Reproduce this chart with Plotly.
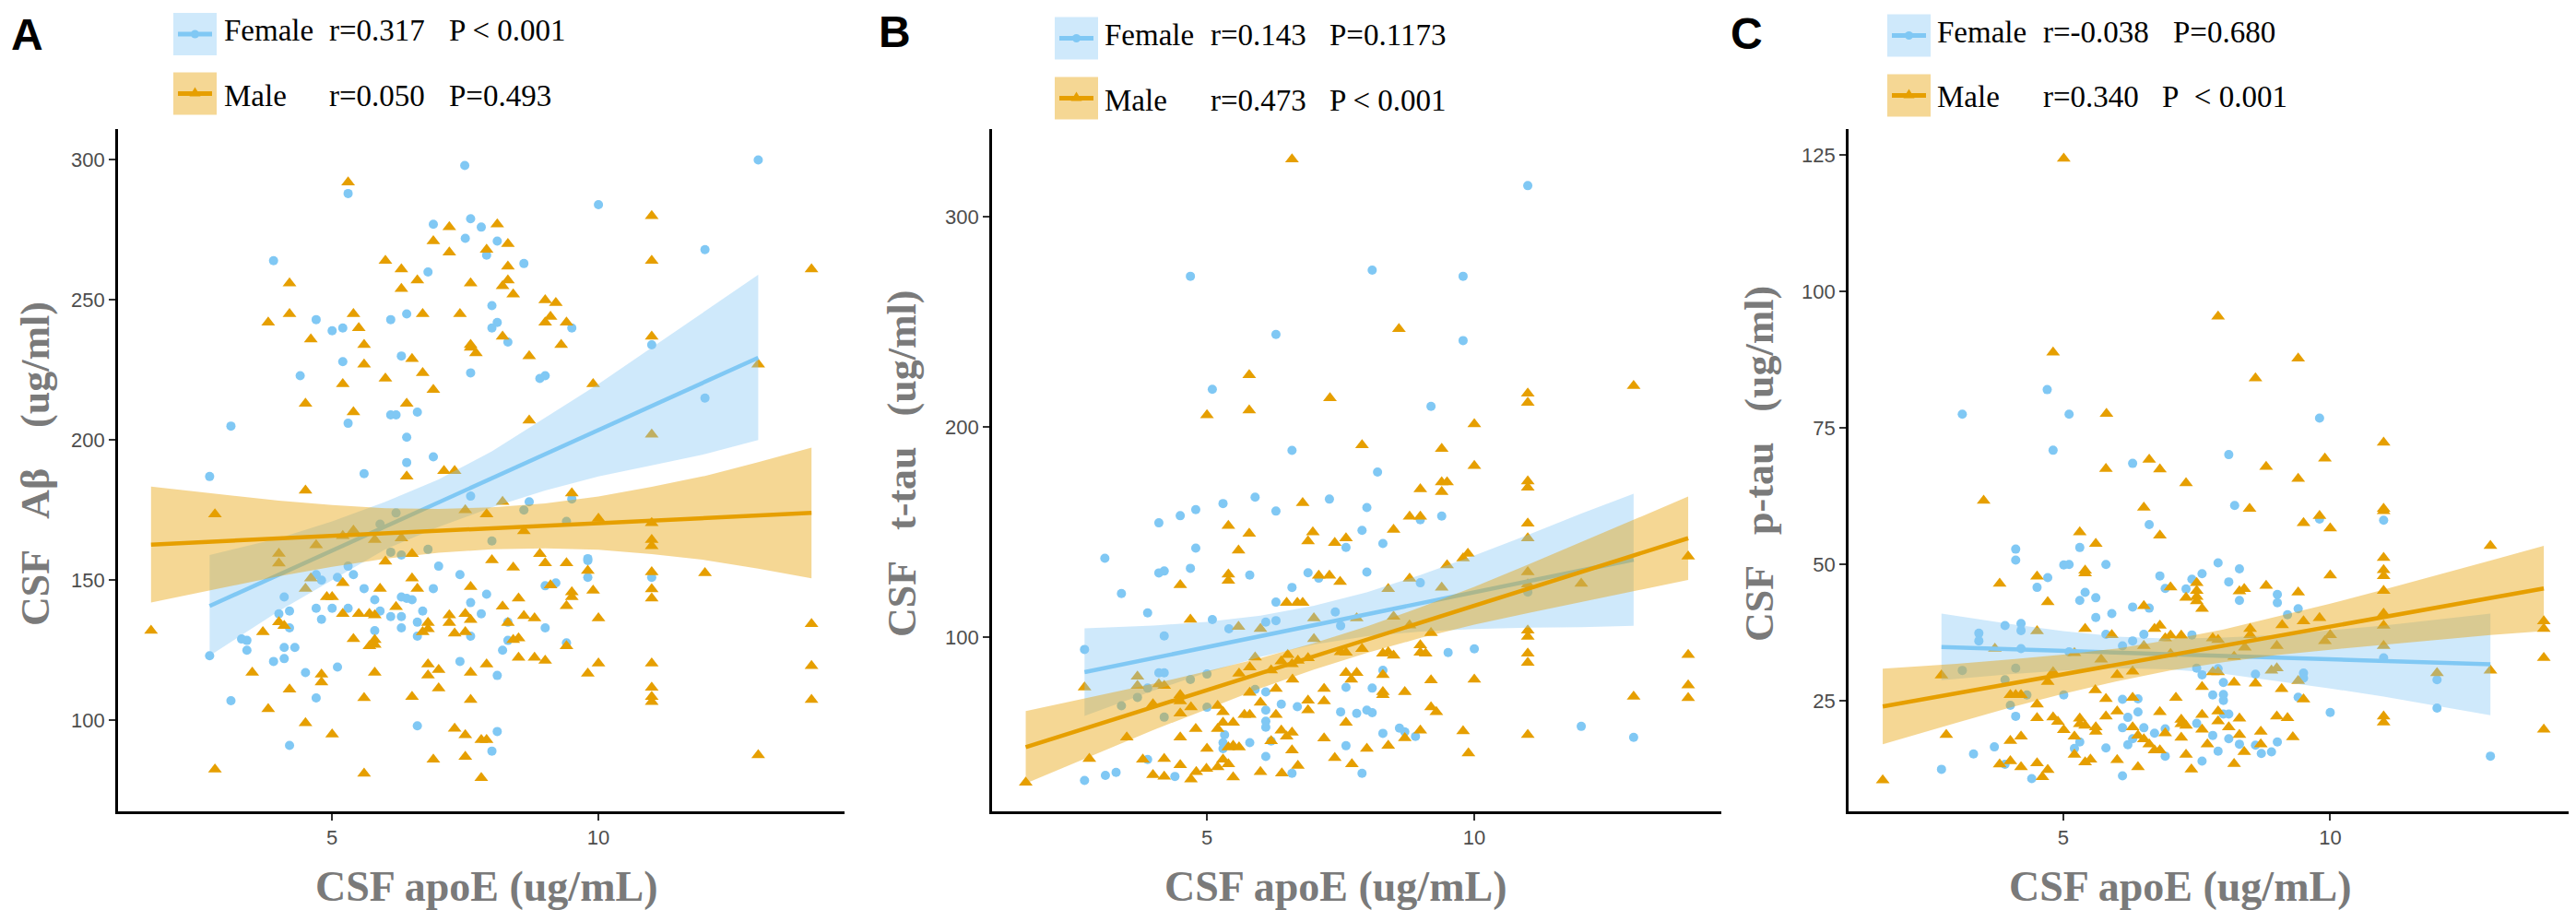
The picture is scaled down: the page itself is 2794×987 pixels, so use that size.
import plotly.graph_objects as go

W, H = 2794, 987

# ---- data: (apoE, marker) pairs ----
a_female = [(7.49, 298), (13.0, 300), (5.3, 288), (10.0, 284), (6.9, 277), (7.6, 279), (7.8, 276), (7.5, 272),
            (8.1, 271), (7.9, 266), (12.0, 268), (3.9, 264), (8.6, 263), (6.8, 260), (8.0, 248), (8.1, 242),
            (8.0, 240), (4.7, 243), (6.1, 243), (6.4, 245), (5.0, 239), (5.2, 240), (8.3, 235), (9.5, 240),
            (11.0, 234), (5.2, 228), (6.3, 230), (4.4, 223), (7.6, 224), (8.9, 222), (9.0, 223), (12.0, 215),
            (6.1, 209), (6.2, 209), (6.6, 210), (5.3, 206), (3.1, 205), (6.4, 201), (6.4, 192), (6.9, 194),
            (5.6, 188), (2.7, 187), (7.6, 180), (8.7, 178), (8.6, 175), (9.5, 179), (6.2, 174), (8.0, 164),
            (9.4, 171), (5.9, 170), (6.8, 161), (6.3, 159), (6.1, 160), (9.8, 157.7), (7.0, 155), (7.4, 152),
            (9.8, 157), (9.8, 151), (11.0, 151), (9.2, 149), (9.0, 148), (4.7, 152), (4.8, 150), (5.1, 151),
            (5.4, 152), (5.3, 155), (5.6, 147), (6.9, 147), (6.3, 144), (6.4, 143.5), (6.5, 143), (5.8, 143),
            (4.1, 144), (4.0, 138), (4.2, 139), (4.7, 140), (5.0, 140), (5.3, 140), (4.8, 136), (5.9, 139),
            (6.1, 137), (6.3, 137), (6.7, 139), (6.6, 135), (5.8, 132), (6.3, 133), (7.8, 138), (7.6, 142),
            (7.9, 145), (8.3, 135), (9.0, 133), (4.2, 133), (3.4, 128.5), (3.3, 129), (3.4, 125), (4.1, 126),
            (4.3, 126), (4.1, 122), (3.9, 121), (2.7, 123), (4.5, 117), (5.1, 119), (6.6, 130), (7.4, 121),
            (7.6, 130), (8.2, 125), (8.3, 128.5), (8.1, 116), (3.1, 107), (4.7, 108), (6.6, 98), (4.2, 91),
            (8.1, 96), (8.0, 89), (9.4, 127.6)]

a_male = [(5.3, 292), (11.0, 280), (7.2, 276), (8.1, 277), (6.9, 271), (7.2, 267), (8.3, 270), (7.9, 268),
          (6.0, 264), (11.0, 264), (8.3, 262), (6.3, 261), (4.2, 256), (6.6, 257), (7.6, 256), (8.3, 257),
          (6.3, 254), (8.2, 255), (8.4, 252), (9.0, 250), (9.2, 249), (3.8, 242), (4.2, 245), (5.4, 245),
          (5.5, 240), (6.7, 245), (7.4, 245), (9.0, 242), (9.1, 244), (9.4, 242), (4.6, 236), (5.6, 234),
          (8.2, 237), (7.6, 234), (7.7, 231), (7.6, 233), (9.3, 234), (11.0, 237), (6.5, 229), (8.7, 230),
          (5.6, 227), (13.0, 227), (6.7, 224), (6.0, 222), (5.2, 220), (6.9, 218), (9.9, 220), (4.5, 213),
          (6.4, 213), (5.4, 210), (8.7, 207), (11.0, 202), (7.1, 189), (7.3, 189), (6.4, 187), (4.5, 182),
          (14.0, 261), (8.2, 178), (7.5, 175), (9.5, 181), (2.8, 173.5), (10.0, 172), (1.6, 132), (2.8, 82.5),
          (3.5, 117), (3.7, 131.5), (3.8, 104), (4.0, 135), (4.1, 133.7), (4.0, 156), (4.2, 111), (4.5, 99),
          (4.5, 147), (4.6, 150.7), (4.8, 116.4), (4.8, 113.6), (4.9, 144), (5.0, 144), (5.0, 95), (5.2, 149),
          (5.2, 138), (5.4, 129), (5.5, 138), (5.6, 108), (5.6, 81), (5.7, 138), (5.8, 137.5), (5.8, 128.7),
          (5.8, 127), (5.7, 126.5), (5.8, 117), (5.9, 147), (6.0, 156.7), (6.2, 140.5), (6.5, 159.4),
          (6.5, 150.7), (6.6, 147), (6.5, 108.4), (6.8, 134.8), (6.8, 132.6), (6.7, 131.5), (6.8, 120),
          (6.8, 116), (6.9, 86), (7.0, 118), (7.0, 111.4), (7.2, 137.5), (7.2, 134.8), (7.3, 131), (7.3, 97),
          (7.5, 138), (7.5, 131.5), (7.5, 94.7), (7.5, 87), (7.6, 147.6), (7.6, 135.9), (7.6, 117),
          (7.6, 107.3), (7.8, 93), (7.8, 79.4), (7.9, 93), (7.9, 120), (8.0, 157.2), (8.2, 140.6),
          (8.3, 134.8), (8.4, 154.5), (8.4, 128.7), (8.5, 129.3), (8.5, 143.5), (8.5, 122.4), (8.6, 137.3),
          (8.8, 136.4), (8.8, 122.4), (8.9, 159.4), (9.0, 156.1), (9.0, 121.3), (9.1, 148.2), (9.4, 156.1),
          (9.4, 140.8), (9.4, 126.5), (9.5, 145.7), (9.5, 144), (9.8, 153.4), (9.8, 116.7), (9.9, 146.3),
          (10.0, 136.4), (10.0, 120.3), (11.0, 170.4), (11.0, 164.4), (11.0, 162.2), (11.0, 152.9),
          (11.0, 146.8), (11.0, 143.5), (11.0, 120.3), (11.0, 111.7), (11.0, 108.4), (11.0, 106.6),
          (12.0, 152.6), (13.0, 87.6), (14.0, 134.4), (14.0, 119.4), (14.0, 107.3), (6.3, 165), (5.4, 167.7),
          (5.8, 164.4), (4.7, 162.5), (5.2, 165.8), (8.6, 167.5), (7.9, 173.5), (4.0, 159.5)]

b_female = [(11.0, 314.9), (4.69, 271.8), (8.09, 274.7), (9.79, 271.8), (6.29, 244.1), (9.79, 241.2), (5.1, 218.0),
            (9.19, 209.9), (6.59, 189.0), (8.19, 178.7), (5.30, 163.7), (5.90, 166.7), (7.29, 165.8),
            (6.29, 160.1), (7.99, 161.8), (4.79, 160.8), (4.50, 157.9), (4.10, 154.5), (9.39, 157.7),
            (8.99, 156.0), (7.90, 150.9), (7.60, 142.8), (8.29, 144.7), (4.79, 142.5), (3.09, 137.7),
            (4.10, 130.7), (4.20, 131.6), (4.69, 132.9), (5.80, 129.7), (7.99, 131.1), (6.89, 130.8),
            (3.40, 120.9), (3.89, 111.7), (8.99, 126.0), (6.59, 123.8), (6.29, 116.8), (7.09, 128.2),
            (5.10, 108.5), (4.20, 100.7), (5.41, 104.1), (6.10, 107.3), (6.29, 108.0), (7.40, 112.1),
            (7.50, 105.6), (9.51, 92.8), (10.0, 94.6), (11.0, 121.6), (2.71, 94.3), (4.20, 83.2), (4.10, 83.2),
            (4.69, 80.0), (5.0, 82.6), (8.29, 84.4), (3.70, 71.5), (3.89, 75.9), (3.40, 67.5), (4.20, 62.1),
            (5.0, 66.8), (7.60, 76.3), (8.09, 75.9), (5.90, 75.3), (6.10, 74.1), (6.39, 68.3), (6.69, 67.1),
            (7.50, 64.6), (7.80, 63.9), (7.99, 65.4), (8.09, 64.2), (6.10, 65.4), (6.10, 60.2), (6.10, 57.3),
            (5.33, 53.7), (5.30, 50.0), (5.30, 47.1), (5.80, 50.0), (6.20, 50.7), (6.10, 43.4), (7.60, 48.5),
            (8.29, 54.4), (8.60, 56.9), (8.90, 52.9), (8.70, 55.1), (12.0, 57.7), (12.98, 52.5), (2.71, 32.0),
            (3.10, 34.4), (3.30, 35.8), (4.40, 33.9), (6.59, 35.4), (7.90, 35.4), (3.89, 42.0)]

b_male = [(6.59, 327.4), (8.59, 246.7), (5.79, 224.8), (5.0, 205.8), (5.79, 208.0), (7.30, 213.9), (11.0, 216.1),
          (11.0, 211.7), (12.98, 219.7), (10.0, 201.5), (7.9, 191.5), (9.39, 189.8), (10.0, 181.6),
          (11.0, 174.3), (11.0, 171.3), (8.99, 170.6), (9.39, 173.8), (9.49, 173.8), (9.39, 169.2),
          (6.79, 164.0), (5.40, 153.1), (5.79, 149.4), (5.59, 141.4), (6.98, 150.1), (6.89, 145.8),
          (7.39, 145.0), (7.60, 147.2), (8.49, 151.3), (8.79, 157.5), (8.99, 157.5), (11.0, 154.2),
          (11.0, 147.2), (14.0, 138.5), (9.88, 139.9), (9.79, 137.7), (9.49, 134.4), (4.50, 125.0),
          (5.40, 130.0), (5.40, 127.0), (7.09, 129.4), (7.29, 129.4), (7.49, 126.5), (8.79, 128.0),
          (9.39, 123.8), (11.0, 131.1), (11.0, 125.3), (12.0, 125.6), (6.69, 116.5), (6.49, 116.5),
          (6.79, 116.5), (8.39, 123.1), (8.49, 109.9), (4.69, 108.5), (5.59, 105.1), (6.00, 104.1),
          (7.80, 109.2), (7.00, 109.2), (8.79, 105.8), (9.19, 102.2), (11.0, 103.4), (11.0, 100.4),
          (11.0, 92.4), (11.0, 88.0), (14.0, 91.7), (14.0, 77.3), (14.0, 71.2), (12.98, 71.9), (10.0, 80.0),
          (9.19, 79.7), (8.99, 96.3), (8.99, 92.8), (9.09, 92.4), (8.29, 92.4), (8.39, 93.1), (8.49, 91.4),
          (7.90, 94.6), (7.50, 93.1), (7.60, 92.8), (7.00, 99.3), (6.51, 91.7), (6.59, 87.3), (6.39, 88.7),
          (6.20, 84.4), (5.90, 90.5), (5.80, 85.8), (5.60, 82.9), (6.70, 89.0), (6.89, 90.2), (7.80, 83.2),
          (7.60, 83.2), (7.70, 80.0), (8.29, 82.2), (8.29, 74.1), (8.29, 72.7), (8.70, 74.1), (9.19, 66.8),
          (9.29, 64.6), (6.60, 80.0), (7.19, 75.6), (7.19, 69.7), (6.89, 70.0), (6.89, 65.4), (6.29, 75.6),
          (6.29, 63.2), (5.80, 73.8), (6.00, 69.0), (5.80, 63.2), (5.70, 63.2), (5.20, 67.5), (5.30, 64.6),
          (5.49, 59.5), (5.30, 59.5), (4.70, 66.8), (4.50, 72.7), (4.50, 63.9), (4.10, 77.8), (4.20, 77.0),
          (3.99, 68.3), (4.50, 69.7), (3.70, 81.4), (3.70, 77.0), (2.71, 76.3), (3.50, 52.5), (4.50, 52.5),
          (4.79, 56.6), (5.20, 56.6), (5.49, 48.5), (5.60, 47.8), (5.40, 47.8), (5.0, 47.1), (5.30, 42.0),
          (6.39, 55.8), (6.59, 54.8), (6.49, 52.9), (6.20, 50.7), (6.59, 46.3), (6.70, 39.0), (6.40, 35.4),
          (6.00, 36.1), (5.49, 33.5), (5.20, 38.3), (5.40, 39.8), (4.99, 37.6), (4.80, 36.1), (4.70, 32.5),
          (4.50, 39.3), (4.20, 33.9), (3.99, 34.6), (3.80, 42.0), (4.20, 42.3), (2.80, 42.3), (1.61, 31.0),
          (7.39, 42.7), (7.71, 39.8), (7.19, 52.1), (7.60, 59.5), (7.99, 47.1), (8.39, 48.5), (8.70, 52.2),
          (8.99, 55.8), (9.79, 55.4), (9.89, 44.9), (11.0, 53.7)]

c_female = [(4.70, 82.0), (3.11, 77.5), (5.11, 77.5), (9.80, 76.8), (4.81, 70.9), (8.10, 70.1), (6.30, 68.5),
            (8.21, 60.8), (6.61, 57.3), (9.80, 58.3), (11.0, 58.1), (4.11, 52.8), (4.11, 50.8), (5.31, 53.1),
            (5.01, 49.9), (5.11, 50.0), (5.80, 50.0), (7.90, 50.3), (8.30, 49.2), (8.10, 46.8), (7.60, 48.3),
            (7.41, 47.3), (6.81, 47.9), (4.71, 47.6), (4.51, 45.8), (5.41, 44.9), (6.91, 45.6), (7.30, 45.5),
            (5.31, 43.4), (5.61, 43.9), (8.30, 43.4), (9.01, 44.5), (9.01, 43.0), (9.40, 41.9), (9.20, 40.8),
            (6.30, 42.2), (6.61, 42.0), (5.91, 41.0), (5.61, 40.3), (3.91, 38.8), (4.21, 39.2), (4.21, 37.9),
            (3.42, 37.4), (3.42, 36.0), (5.80, 37.2), (6.51, 37.2), (6.30, 36.0), (7.41, 37.1), (11.0, 32.9),
            (4.21, 34.6), (5.11, 34.0), (6.11, 35.1), (4.11, 31.0), (3.11, 30.6), (3.91, 28.9), (7.50, 31.0),
            (7.60, 29.8), (7.90, 30.9), (8.60, 29.9), (9.50, 30.1), (9.50, 29.2), (8.00, 28.4), (7.80, 26.1),
            (8.00, 26.2), (8.00, 25.1), (12.0, 28.9), (12.0, 23.7), (10.0, 22.9), (9.40, 25.7), (4.32, 26.1),
            (4.01, 24.2), (4.11, 22.2), (5.01, 26.1), (6.11, 25.3), (6.40, 25.4), (6.40, 23.0), (6.11, 20.1),
            (6.21, 22.0), (6.51, 20.1), (7.50, 20.9), (8.00, 22.6), (8.10, 22.6), (7.80, 18.7), (8.10, 18.1),
            (8.30, 17.1), (8.60, 16.9), (9.01, 17.5), (8.71, 15.4), (8.90, 15.7), (7.90, 15.8), (7.60, 14.0),
            (6.91, 19.9), (6.71, 19.1), (6.91, 14.9), (6.30, 18.1), (6.21, 17.0), (5.80, 16.4), (5.31, 17.5),
            (5.21, 16.3), (3.71, 16.6), (3.32, 15.3), (2.72, 12.5), (3.91, 13.4), (4.41, 10.8), (6.11, 11.3),
            (13.0, 14.9)]

c_male = [(5.01, 124.3), (7.90, 95.4), (4.81, 88.8), (9.40, 87.7), (8.60, 84.1), (5.81, 77.6), (11.0, 72.3),
          (6.61, 69.2), (5.80, 67.5), (6.81, 67.4), (8.80, 67.9), (9.90, 69.4), (9.40, 65.7), (7.30, 64.9),
          (3.51, 61.7), (6.51, 60.4), (8.49, 60.2), (11.0, 60.2), (11.0, 59.8), (9.80, 58.9), (9.50, 57.6),
          (10.0, 56.6), (6.81, 55.3), (5.31, 55.9), (5.61, 53.8), (13.0, 53.4), (11.0, 51.2), (11.0, 49.0),
          (11.0, 47.9), (11.0, 45.2), (10.0, 48.0), (5.41, 48.9), (5.41, 48.4), (4.51, 47.8), (3.81, 46.5),
          (4.71, 43.1), (7.01, 45.8), (7.30, 43.9), (7.50, 46.6), (7.50, 45.2), (7.50, 44.1), (7.50, 43.3),
          (7.60, 41.9), (6.51, 42.4), (8.30, 45.1), (8.39, 45.5), (8.80, 46.1), (9.40, 44.9), (5.41, 38.2),
          (4.51, 37.8), (5.91, 37.1), (6.71, 38.2), (6.81, 38.8), (7.01, 37.0), (7.21, 37.0), (6.91, 36.5),
          (7.80, 36.5), (7.90, 36.2), (8.50, 38.2), (8.50, 37.1), (9.10, 38.9), (9.50, 39.6), (9.80, 40.2),
          (11.0, 41.0), (11.0, 38.8), (11.0, 35.1), (10.0, 37.1), (9.90, 36.0), (14.0, 39.6), (14.0, 38.2),
          (14.0, 32.9), (13.0, 30.6), (12.0, 30.1), (14.0, 19.8), (3.72, 34.6), (2.72, 29.7), (5.21, 33.8),
          (5.71, 32.6), (6.01, 29.8), (6.30, 30.4), (6.51, 35.1), (7.01, 33.6), (7.80, 30.3), (7.90, 30.3),
          (8.20, 33.1), (8.40, 34.8), (8.90, 30.6), (9.00, 31.0), (9.00, 35.1), (9.40, 28.7), (9.09, 27.2),
          (8.20, 28.4), (8.60, 28.2), (7.60, 27.6), (9.50, 25.3), (4.81, 30.3), (4.71, 28.5), (4.01, 26.1),
          (4.11, 26.1), (4.21, 26.1), (4.51, 24.4), (4.51, 21.9), (4.81, 22.0), (4.90, 21.2), (5.31, 21.8),
          (5.31, 20.8), (5.41, 20.5), (5.01, 19.7), (5.61, 19.4), (5.61, 20.2), (5.80, 22.2), (6.01, 23.1),
          (5.60, 27.0), (5.80, 25.4), (6.30, 25.6), (6.30, 20.2), (6.40, 18.7), (6.51, 18.0), (6.61, 17.1),
          (6.71, 16.0), (6.81, 16.0), (6.81, 23.0), (6.91, 19.1), (7.11, 25.6), (7.21, 21.6), (7.21, 20.8),
          (7.30, 20.5), (7.21, 18.3), (7.30, 15.2), (7.40, 12.5), (7.60, 22.5), (7.60, 19.8), (7.70, 17.1),
          (7.90, 23.1), (7.90, 21.3), (8.10, 20.2), (8.30, 21.8), (8.30, 18.8), (8.39, 15.7), (8.20, 13.5),
          (8.70, 19.4), (8.70, 17.1), (9.00, 22.2), (9.20, 21.9), (9.30, 18.4), (11.0, 22.2), (11.0, 21.1),
          (6.01, 14.2), (6.40, 12.9), (5.21, 15.2), (5.41, 13.8), (5.51, 14.3), (5.21, 18.5), (4.21, 18.5),
          (4.01, 17.7), (3.81, 13.4), (4.01, 14.0), (4.21, 12.9), (4.51, 13.6), (4.61, 11.1), (4.71, 12.4),
          (2.81, 18.8), (1.62, 10.5)]

# ---- regression lines and confidence bands ----
a_fem_fx = [2.7, 4, 5, 6, 7, 8, 9, 10, 11, 12, 13]
a_fem_fy = [140.8, 152.0, 160.6, 169.2, 177.8, 186.4, 195.0, 203.6, 212.2, 220.8, 229.4]
a_fem_hi = [159, 165, 171, 178, 186, 196, 208, 220, 233, 246, 259]
a_fem_lo = [123, 139, 150, 161, 169, 176, 182, 187, 191, 195, 200]
a_male_fx = [1.6, 3, 4, 5, 6, 7, 8, 9, 10, 11, 12, 13, 14]
a_male_fy = [162.7, 164.0, 164.9, 165.8, 166.7, 167.6, 168.5, 169.4, 170.4, 171.3, 172.2, 173.1, 174.0]
a_male_hi = [183.4, 180.5, 178.4, 176.8, 175.7, 175.4, 176.0, 177.4, 179.9, 183.3, 187.2, 192.1, 197.3]
a_male_lo = [142.0, 147.5, 151.4, 154.8, 157.7, 159.8, 161.0, 161.4, 160.9, 159.3, 157.2, 154.1, 150.7]

b_fem_fx = [2.71, 4, 5, 6, 7, 8, 9, 10, 11, 12, 12.98]
b_fem_fy = [83.5, 90.2, 95.4, 100.6, 105.9, 111.1, 116.3, 121.5, 126.7, 131.9, 137.0]
b_fem_hi = [104.3, 105.7, 107.4, 110.4, 115.1, 121.6, 129.8, 139.0, 148.7, 158.9, 168.4]
b_fem_lo = [62.7, 74.7, 83.4, 90.8, 96.7, 100.6, 102.8, 104.0, 104.7, 104.9, 105.6]
b_male_fx = [1.61, 3, 4, 5, 6, 7, 8, 9, 10, 11, 12, 13, 14]
b_male_fy = [47.8, 58.9, 67.0, 75.0, 83.0, 91.0, 99.0, 107.1, 115.1, 123.1, 131.2, 139.2, 147.2]
b_male_hi = [65.0, 72.4, 78.0, 84.0, 90.2, 97.3, 105.3, 114.4, 124.1, 134.6, 145.4, 156.2, 167.0]
b_male_lo = [30.6, 45.4, 56.0, 66.0, 75.8, 84.7, 92.7, 99.8, 106.1, 111.6, 117.0, 122.2, 127.4]

c_fem_fx = [2.72, 4, 5, 6, 7, 8, 9, 10, 11, 12, 13]
c_fem_fy = [34.9, 34.5, 34.2, 33.9, 33.6, 33.3, 32.9, 32.6, 32.3, 32.0, 31.7]
c_fem_hi = [41.0, 39.1, 37.8, 36.8, 36.4, 36.6, 37.1, 37.9, 38.8, 39.9, 41.0]
c_fem_lo = [28.8, 29.9, 30.6, 31.0, 30.8, 30.0, 28.7, 27.3, 25.8, 24.1, 22.4]
c_male_fx = [1.62, 3, 4, 5, 6, 7, 8, 9, 10, 11, 12, 13, 14]
c_male_fy = [24.0, 26.4, 28.2, 29.9, 31.6, 33.4, 35.1, 36.9, 38.6, 40.4, 42.1, 43.9, 45.6]
c_male_hi = [30.9, 31.8, 32.6, 33.5, 34.6, 36.2, 38.1, 40.4, 42.8, 45.4, 48.0, 50.7, 53.4]
c_male_lo = [17.1, 21.0, 23.8, 26.3, 28.6, 30.6, 32.1, 33.4, 34.4, 35.4, 36.2, 37.1, 37.8]

# ---- text ----
panel_letters = ["A", "B", "C"]
SP3 = "\u00a0\u00a0\u00a0"
y_titles = ["CSF" + SP3 + "A\u03b2" + SP3 + "\u00a0(ug/ml)",
            "CSF" + SP3 + "t-tau" + SP3 + "(ug/ml)",
            "CSF" + SP3 + "p-tau" + SP3 + "(ug/ml)"]
x_title = "CSF apoE (ug/mL)"
fem_r = ["r=0.317", "r=0.143", "r=-0.038"]
fem_p = ["P < 0.001", "P=0.1173", "P=0.680"]
male_r = ["r=0.050", "r=0.473", "r=0.340"]
male_p = ["P=0.493", "P < 0.001", "P\u00a0\u00a0< 0.001"]
y_tickvals = [[100, 150, 200, 250, 300], [100, 200, 300], [25, 50, 75, 100, 125]]
y_ranges = [[67.5, 311], [17.3, 341.8], [4.8, 129.7]]

points = [(a_female, a_male), (b_female, b_male), (c_female, c_male)]
fits = [
    ((a_fem_fx, a_fem_fy, a_fem_lo, a_fem_hi), (a_male_fx, a_male_fy, a_male_lo, a_male_hi)),
    ((b_fem_fx, b_fem_fy, b_fem_lo, b_fem_hi), (b_male_fx, b_male_fy, b_male_lo, b_male_hi)),
    ((c_fem_fx, c_fem_fy, c_fem_lo, c_fem_hi), (c_male_fx, c_male_fy, c_male_lo, c_male_hi)),
]

BLUE = "#80C8F4"
ORANGE = "#E69F00"
BLUE_FILL = "rgba(135,200,245,0.4)"
ORANGE_FILL = "rgba(230,159,0,0.42)"
GREY_TITLE = "#7A7A7A"
SERIF = "Liberation Serif"
SANS = "Liberation Sans"

# layout in image pixels
panel_x = [(120, 908), (1068, 1859), (1997, 2787)]
plot_top, plot_bot = 132, 872
key_x = [180, 1136, 2039]
key_rows = [(29, 93.5), (33.5, 98.5), (30.5, 95.5)]
text_rows = [(25, 96), (30, 101), (27, 97)]
label_x = [233, 1188, 2091]
r_x = [347, 1303, 2206]
p_x_f = [477, 1432, 2347]
p_x_m = [477, 1432, 2335]
letter_pos = [(21, 30), (962, 27), (1887, 29)]
ytitle_x = [30, 970, 1900]
xtitle_x = [519, 1440, 2356]


def fx(x):
    return x / W


def fy(y):
    return 1 - y / H


fig = go.Figure()

for i in range(3):
    xa = "x" if i == 0 else "x%d" % (i + 1)
    ya = "y" if i == 0 else "y%d" % (i + 1)
    fem, male = points[i]
    fig.add_trace(go.Scatter(x=[p[0] for p in fem], y=[p[1] for p in fem], mode="markers",
                             marker=dict(symbol="circle", size=10, color=BLUE, line=dict(width=0)),
                             xaxis=xa, yaxis=ya, hoverinfo="skip"))
    fig.add_trace(go.Scatter(x=[p[0] for p in male], y=[p[1] for p in male], mode="markers",
                             marker=dict(symbol="triangle-up", size=13, color=ORANGE, line=dict(width=0)),
                             xaxis=xa, yaxis=ya, hoverinfo="skip"))
    for (sx, sy, lo, hi), col, fill in zip(fits[i], [BLUE, ORANGE], [BLUE_FILL, ORANGE_FILL]):
        fig.add_trace(go.Scatter(x=sx + sx[::-1], y=hi + lo[::-1], mode="lines", fill="toself",
                                 fillcolor=fill, line=dict(width=0), xaxis=xa, yaxis=ya, hoverinfo="skip"))
        fig.add_trace(go.Scatter(x=sx, y=sy, mode="lines", line=dict(color=col, width=4.5),
                                 xaxis=xa, yaxis=ya, hoverinfo="skip"))

axis_common = dict(showline=True, linecolor="black", linewidth=2.7, ticks="outside", ticklen=7,
                   tickwidth=2, tickcolor="#333333", showgrid=False, zeroline=False,
                   tickfont=dict(family=SANS, size=22, color="#4D4D4D"))

layout = dict(width=W, height=H, margin=dict(l=0, r=0, t=0, b=0), showlegend=False,
              plot_bgcolor="white", paper_bgcolor="white")
for i in range(3):
    sfx = "" if i == 0 else str(i + 1)
    layout["xaxis" + sfx] = dict(axis_common, domain=[fx(panel_x[i][0]), fx(panel_x[i][1])],
                                 anchor="y" + sfx, range=[0.98, 14.62], tickvals=[5, 10])
    layout["yaxis" + sfx] = dict(axis_common, domain=[fy(plot_bot), fy(plot_top)],
                                 anchor="x" + sfx, range=y_ranges[i], tickvals=y_tickvals[i])
fig.update_layout(**layout)

shapes = []
annotations = []
for i in range(3):
    # legend keys
    for row, fill, col, sym in [(0, BLUE_FILL, BLUE, "circle"), (1, ORANGE_FILL, ORANGE, "tri")]:
        cy = key_rows[i][row]
        kx = key_x[i]
        shapes.append(dict(type="rect", xref="paper", yref="paper", x0=fx(kx), x1=fx(kx + 47),
                           y0=fy(cy + 23), y1=fy(cy - 23), fillcolor=fill, line=dict(width=0)))
        shapes.append(dict(type="line", xref="paper", yref="paper", x0=fx(kx + 5), x1=fx(kx + 42),
                           y0=fy(cy), y1=fy(cy), line=dict(color=col, width=5)))
        mx = kx + 23.5
        if sym == "circle":
            shapes.append(dict(type="circle", xref="paper", yref="paper", x0=fx(mx - 4.5), x1=fx(mx + 4.5),
                               y0=fy(cy + 4.5), y1=fy(cy - 4.5), fillcolor=col, line=dict(width=0)))
        else:
            path = "M %f,%f L %f,%f L %f,%f Z" % (fx(mx - 6), fy(cy + 3), fx(mx + 6), fy(cy + 3),
                                                  fx(mx), fy(cy - 7))
            shapes.append(dict(type="path", xref="paper", yref="paper", path=path, fillcolor=col,
                               line=dict(width=0)))
    legend_font = dict(family=SERIF, size=33, color="black")
    for row, lab, rtxt, ptxt, pxx in [(0, "Female", fem_r[i], fem_p[i], p_x_f[i]),
                                      (1, "Male", male_r[i], male_p[i], p_x_m[i])]:
        cy = text_rows[i][row]
        for txt, tx in [(lab, label_x[i]), (rtxt, r_x[i]), (ptxt, pxx)]:
            annotations.append(dict(text=txt, x=fx(tx), y=fy(cy), xref="paper", yref="paper",
                                    xanchor="left", yanchor="middle", showarrow=False, font=legend_font))
    # panel letter
    annotations.append(dict(text="<b>%s</b>" % panel_letters[i], x=fx(letter_pos[i][0]), y=fy(letter_pos[i][1]),
                            xref="paper", yref="paper", xanchor="center", yanchor="middle", showarrow=False,
                            font=dict(family=SANS, size=48, color="black")))
    # axis titles
    annotations.append(dict(text="<b>%s</b>" % y_titles[i], x=fx(ytitle_x[i]), y=fy(495),
                            xref="paper", yref="paper", xanchor="center", yanchor="middle", textangle=-90,
                            showarrow=False, font=dict(family=SERIF, size=44, color=GREY_TITLE)))
    annotations.append(dict(text="<b>%s</b>" % x_title, x=fx(xtitle_x[i]), y=fy(953),
                            xref="paper", yref="paper", xanchor="center", yanchor="middle",
                            showarrow=False, font=dict(family=SERIF, size=46, color=GREY_TITLE)))

fig.update_layout(shapes=shapes, annotations=annotations)
fig.write_html("out.html")
